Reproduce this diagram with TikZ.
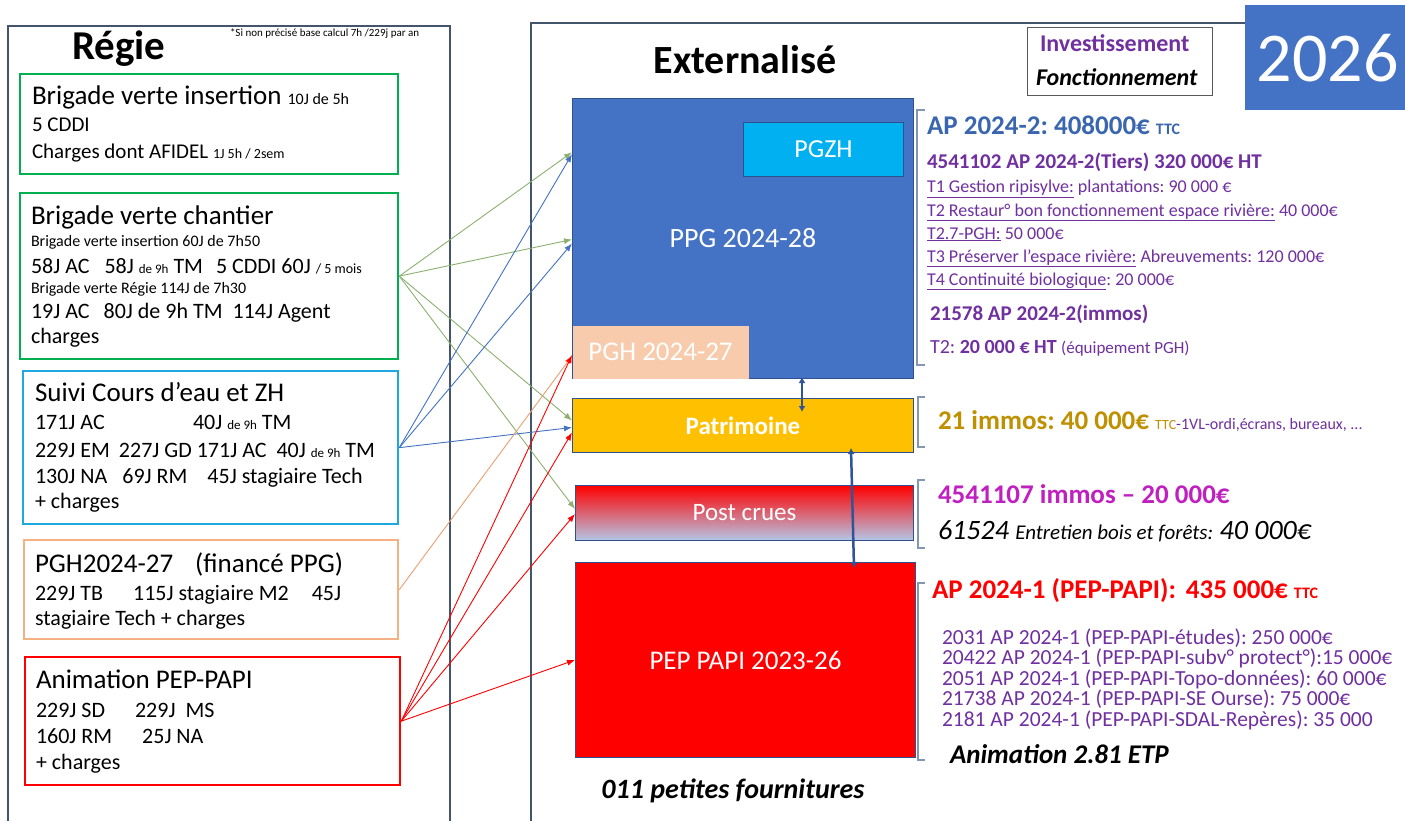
\documentclass[tikz,border=0pt]{standalone}
\usepackage{fontspec}
\setmainfont{Carlito}
\usetikzlibrary{arrows.meta,calc}
\frenchspacing
\newcommand{\fsz}[1]{\fontsize{#1}{#1}\selectfont}
\definecolor{ppgblue}{HTML}{4472C4}
\definecolor{ppgborder}{HTML}{2F528F}
\definecolor{pgzhcol}{HTML}{00B0F0}
\definecolor{pghcol}{HTML}{F8CBAD}
\definecolor{patcol}{HTML}{FFC000}
\definecolor{boxgreen}{HTML}{00B050}
\definecolor{boxcyan}{HTML}{1FA8E0}
\definecolor{boxpeach}{HTML}{F4B183}
\definecolor{purp}{HTML}{7030A0}
\definecolor{apblue}{HTML}{3A66B0}
\definecolor{goldtxt}{HTML}{BF9000}
\definecolor{magtxt}{HTML}{C020C0}
\definecolor{brkcol}{HTML}{8497B0}
\definecolor{lngreen}{HTML}{8DB070}
\definecolor{lnorange}{HTML}{E8A070}
\definecolor{arrowdark}{HTML}{2F5597}
\definecolor{framecol}{HTML}{44546A}
\definecolor{pclow}{HTML}{B4C7E7}
\definecolor{pcmid}{HTML}{DDA0B8}
\begin{document}
\begin{tikzpicture}[x=1pt,y=-1pt,
  tx/.style={anchor=base west, inner sep=0pt, outer sep=0pt},
  lbox/.style={draw, line width=2.3pt, inner sep=0pt, anchor=north west},
  extbox/.style={draw=ppgborder, line width=1pt, inner sep=0pt, anchor=north west, text=white},
  frame/.style={draw=framecol, line width=1.1pt},
  brk/.style={draw=brkcol, line width=1.2pt},
  conn/.style={-{Latex[length=8pt,width=6pt]}, line width=0.9pt},
  vert/.style={{Latex[length=6pt,width=7pt]}-{Latex[length=6pt,width=7pt]}, line width=2.5pt, draw=arrowdark}
]
\useasboundingbox (0,0) rectangle (1405,821);
\fill[white] (0,0) rectangle (1405,821);

% panels
\draw[frame] (8,830) -- (8,26) -- (450,26) -- (450,830);
\draw[frame] (531,830) -- (531,23) -- (1410,23);

% titles
\node[tx, font=\bfseries\fsz{41}] (regie) at (72,60) {Régie};
\node[tx, font=\fsz{11}] (note) at (230,37) {*Si non précisé base calcul 7h /229j par an};
\node[anchor=base, inner sep=0pt, font=\bfseries\fsz{40}] (ext) at (745,74) {Externalisé};

% legend
\node[draw=black!65, line width=1pt, anchor=north west, minimum width=185, minimum height=68, inner sep=0pt] (inv) at (1027,27) {};
\node[tx, font=\bfseries\fsz{24}, text=purp] (inv1) at (1040,52) {Investissement};
\node[tx, font=\bfseries\itshape\fsz{24}] (inv2) at (1036,86) {Fonctionnement};
\node[fill=ppgblue, anchor=north west, minimum width=165, minimum height=105, inner sep=0pt, text=white, font=\fsz{70}] (yr) at (1245,5) {2026};

% left boxes
\node[lbox, draw=boxgreen, minimum width=378, minimum height=100] (b1) at (19,73) {};
\node[lbox, draw=boxgreen, minimum width=378, minimum height=166] (b2) at (19,192) {};
\node[lbox, draw=boxcyan, minimum width=375, minimum height=153] (b3) at (22,370) {};
\node[lbox, draw=boxpeach, minimum width=374, minimum height=99] (b4) at (23,539) {};
\node[lbox, draw=red, minimum width=375, minimum height=128] (b5) at (24,656) {};

% box 1 text
\node[tx] (t11) at (32,105) {\fsz{27}Brigade verte insertion {\fsz{16}10J de 5h}};
\node[tx] (t12) at (32,132) {\fsz{21}5 CDDI};
\node[tx] (t13) at (32,159) {\fsz{21}Charges dont AFIDEL {\fsz{14}1J 5h / 2sem}};
% box 2 text
\node[tx] (t21) at (31,224) {\fsz{27}Brigade verte chantier};
\node[tx] (t22) at (31,247) {\fsz{16}Brigade verte insertion 60J de 7h50};
\node[tx] (t23) at (31,273) {\fsz{22}58J AC\hspace{15pt}58J {\fsz{13}de 9h} TM\hspace{13pt}5 CDDI 60J {\fsz{14}/ 5 mois}};
\node[tx] (t24) at (31,293) {\fsz{16}Brigade verte Régie 114J de 7h30};
\node[tx] (t25) at (31,318) {\fsz{22}19J AC\hspace{14pt}80J de 9h TM\hspace{10pt}114J Agent};
\node[tx] (t26) at (31,343) {\fsz{22}charges};
% box 3 text
\node[tx] (t31) at (35,401) {\fsz{27}Suivi Cours d’eau et ZH};
\node[tx] (t32) at (35,429) {\fsz{22}171J AC};
\node[tx] (t32b) at (193,429) {\fsz{22}40J {\fsz{13}de 9h} TM};
\node[tx] (t33) at (35,457) {\fsz{22}229J EM\hspace{9pt}227J GD 171J AC\hspace{10pt}40J {\fsz{13}de 9h} TM};
\node[tx] (t34) at (35,483) {\fsz{22}130J NA\hspace{15pt}69J RM\hspace{20pt}45J stagiaire Tech};
\node[tx] (t35) at (35,508) {\fsz{22}+ charges};
% box 4 text
\node[tx] (t41) at (35,572) {\fsz{27}PGH2024-27\hspace{22pt}(financé PPG)};
\node[tx] (t42) at (35,600) {\fsz{22}229J TB\hspace{30pt}115J stagiaire M2\hspace{23pt}45J};
\node[tx] (t43) at (35,625) {\fsz{22}stagiaire Tech + charges};
% box 5 text
\node[tx] (t51) at (36,688) {\fsz{27}Animation PEP-PAPI};
\node[tx] (t52) at (36,717) {\fsz{22}229J SD\hspace{30pt}229J\hspace{10pt}MS};
\node[tx] (t53) at (36,743) {\fsz{22}160J RM\hspace{30pt}25J NA};
\node[tx] (t54) at (36,769) {\fsz{22}+ charges};

% right column boxes
\node[extbox, fill=ppgblue, minimum width=341, minimum height=280, font=\fsz{28}] (ppg) at (572,98) {PPG 2024-28};
\node[extbox, fill=pgzhcol, minimum width=160, minimum height=54, font=\fsz{26}] (pgzh) at (743,122) {PGZH};
\node[extbox, draw=none, fill=pghcol, minimum width=176, minimum height=53, font=\fsz{27}] (pgh) at (572,325) {PGH 2024-27};
\node[extbox, fill=patcol, minimum width=341, minimum height=54, font=\bfseries\fsz{25}] (pat) at (572,398) {Patrimoine};
\node[extbox, top color=red, middle color=pcmid, bottom color=pclow, minimum width=338, minimum height=55, font=\fsz{25}] (pc) at (575,485) {Post crues};
\node[extbox, fill=red, minimum width=340, minimum height=195, font=\fsz{27}] (pep) at (575,562) {PEP PAPI 2023-26};
\node[anchor=base, inner sep=0pt, font=\bfseries\itshape\fsz{28}] (fourn) at (733,798) {011 petites fournitures};

% vertical arrows
\draw[vert] ($(ppg.south west)+(230,-2)$) -- ($(pat.north west)+(230,14)$);
\draw[vert] ($(pat.south west)+(279,-5)$) -- ($(pep.north west)+(279,6)$);

% connectors
\draw[conn, draw=lngreen] (b2.east) -- ($(ppg.north west)!0.193!(ppg.south west)$);
\draw[conn, draw=lngreen] (b2.east) -- ($(ppg.west)+(0,1)$);
\draw[conn, draw=lngreen] (b2.east) -- ($(pat.west)+(0,-5)$);
\draw[conn, draw=lngreen] (b2.east) -- ($(pc.west)+(0,-4)$);
\draw[conn, draw=ppgblue] (b3.east) -- ($(ppg.north west)!0.2!(ppg.south west)$);
\draw[conn, draw=ppgblue] (b3.east) -- ($(ppg.west)+(0,5)$);
\draw[conn, draw=ppgblue] (b3.east) -- ($(pat.west)+(0,2)$);
\draw[conn, draw=lnorange] (b4.east) -- ($(pgh.west)+(0,4)$);
\draw[conn, draw=red] (b5.east) -- ($(pgh.west)+(0,3)$);
\draw[conn, draw=red] (b5.east) -- ($(pat.west)+(0,7)$);
\draw[conn, draw=red] (b5.east) -- ($(pc.west)+(0,1)$);
\draw[conn, draw=red] (b5.east) -- (pep.west);

% brackets
\draw[brk] (925,110) -- (917,110) -- (917,365) -- (925,365);
\draw[brk] (925,397) -- (918,397) -- (918,447) -- (925,447);
\draw[brk] (925,480) -- (918,480) -- (918,548) -- (925,548);
\draw[brk] (925,583) -- (918,583) -- (918,760) -- (925,760);

% right texts, PPG
\node[tx, text=apblue] (r1) at (927,135) {\bfseries\fsz{27}AP 2024-2: 408000€ {\fsz{16}TTC}};
\node[tx, text=purp] (r2) at (927,169) {\bfseries\fsz{21}4541102 AP 2024-2(Tiers) 320 000€ HT};
\node[tx, text=purp] (r2a) at (927,193) {\fsz{18}\underline{T1 Gestion ripisylve:} plantations: 90 000 €};
\node[tx, text=purp] (r2b) at (927,216) {\fsz{18}\underline{T2 Restaur° bon fonctionnement espace rivière:} 40 000€};
\node[tx, text=purp] (r2c) at (927,239) {\fsz{18}\underline{T2.7-PGH:} 50 000€};
\node[tx, text=purp] (r2d) at (927,262) {\fsz{18}\underline{T3 Préserver l’espace rivière:} Abreuvements: 120 000€};
\node[tx, text=purp] (r2e) at (927,285) {\fsz{18}\underline{T4 Continuité biologique}: 20 000€};
\node[tx, text=purp] (r3) at (930,320) {\bfseries\fsz{21}21578 AP 2024-2(immos)};
\node[tx, text=purp] (r4) at (930,353) {\fsz{20}T2: \textbf{20 000 € HT} {\fsz{17}(équipement PGH)}};
% Patrimoine
\node[tx, text=goldtxt] (r5) at (938,429) {\bfseries\fsz{27}21 immos: 40 000€ {\mdseries\fsz{14}TTC}{\mdseries\color{purp}\fsz{16}-1VL-ordi,écrans, bureaux, ...}};
% Post crues
\node[tx, text=magtxt] (r6) at (938,503) {\bfseries\fsz{27}4541107 immos – 20 000€};
\node[tx] (r7) at (938,539) {\itshape\fsz{28}61524 {\fsz{21}Entretien bois et forêts:} 40 000€};
% PEP PAPI
\node[tx, text=red] (r8) at (932,598) {\bfseries\fsz{27}AP 2024-1 (PEP-PAPI):\hspace{10pt}435 000€ {\fsz{16}TTC}};
\node[tx, text=purp] (r9) at (942,644) {\fsz{21.5}2031 AP 2024-1 (PEP-PAPI-études): 250 000€};
\node[tx, text=purp] (r10) at (942,664.5) {\fsz{21.5}20422 AP 2024-1 (PEP-PAPI-subv° protect°):15 000€};
\node[tx, text=purp] (r11) at (942,685) {\fsz{21.5}2051 AP 2024-1 (PEP-PAPI-Topo-données): 60 000€};
\node[tx, text=purp] (r12) at (942,705.5) {\fsz{21.5}21738 AP 2024-1 (PEP-PAPI-SE Ourse): 75 000€};
\node[tx, text=purp] (r13) at (942,726) {\fsz{21.5}2181 AP 2024-1 (PEP-PAPI-SDAL-Repères): 35 000};
\node[tx] (r14) at (950,763) {\bfseries\itshape\fsz{27}Animation 2.81 ETP};
\end{tikzpicture}
\end{document}
